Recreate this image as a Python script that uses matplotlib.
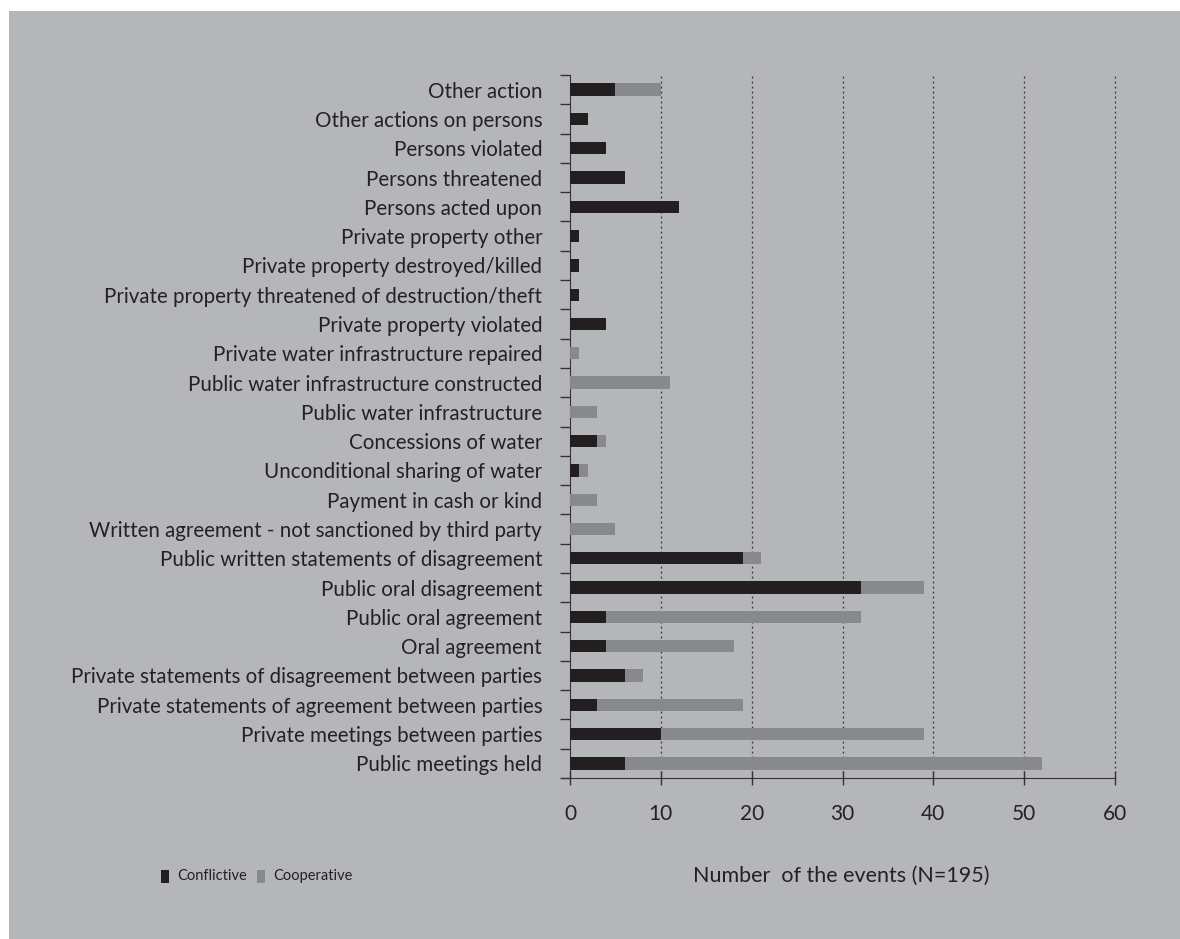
import matplotlib
matplotlib.use("Agg")
import matplotlib.pyplot as plt
from matplotlib.patches import Rectangle
import numpy as np

categories = [
    "Other action",
    "Other actions on persons",
    "Persons violated",
    "Persons threatened",
    "Persons acted upon",
    "Private property other",
    "Private property destroyed/killed",
    "Private property threatened of destruction/theft",
    "Private property violated",
    "Private water infrastructure repaired",
    "Public water infrastructure constructed",
    "Public water infrastructure",
    "Concessions of water",
    "Unconditional sharing of water",
    "Payment in cash or kind",
    "Written agreement - not sanctioned by third party",
    "Public written statements of disagreement",
    "Public oral disagreement",
    "Public oral agreement",
    "Oral agreement",
    "Private statements of disagreement between parties",
    "Private statements of agreement between parties",
    "Private meetings between parties",
    "Public meetings held",
]
conflictive = [5, 2, 4, 6, 12, 1, 1, 1, 4, 0, 0, 0, 3, 1, 0, 0, 19, 32, 4, 4, 6, 3, 10, 6]
cooperative = [5, 0, 0, 0, 0, 0, 0, 0, 0, 1, 11, 3, 1, 1, 3, 5, 2, 7, 28, 14, 2, 16, 29, 46]
xticks = [0, 10, 20, 30, 40, 50, 60]

plt.rcParams['font.family'] = ['Lato', 'DejaVu Sans']

BG = '#b5b6ba'
DARK = '#231f20'
GREY = '#88898c'
TXT = '#222222'

W, H = 1180, 939
fig = plt.figure(figsize=(W / 100, H / 100), dpi=100)
fig.patch.set_facecolor('white')
fig.add_artist(Rectangle((9 / W, 0), 1 - 9 / W, 1 - 11 / H,
                         transform=fig.transFigure, facecolor=BG,
                         edgecolor='none', zorder=-10))

ax = fig.add_axes([570 / W, 1 - 778 / H, (1115 - 570) / W, (778 - 75) / H])
ax.set_facecolor('none')

n = len(categories)
y = np.arange(n)[::-1]
ax.barh(y, conflictive, height=0.42, color=DARK, zorder=3)
ax.barh(y, cooperative, left=conflictive, height=0.42, color=GREY, zorder=3)

ax.set_xlim(0, 60)
ax.set_ylim(-0.5, n - 0.5)
ax.set_xticks(xticks)
ax.set_xticklabels([str(t) for t in xticks], fontsize=15, color=TXT)
ax.tick_params(axis='x', direction='inout', length=10, width=1, color='#333333', pad=14)

ax.set_yticks(y)
ax.set_yticklabels(categories, fontsize=14.8, color=TXT)
ax.tick_params(axis='y', which='major', length=0, pad=20)
ax.set_yticks(np.arange(-0.5, n, 1.0), minor=True)
ax.tick_params(axis='y', which='minor', direction='out', length=7, width=1, color='#333333')

for t in xticks[1:]:
    ax.axvline(t, color='#333333', linestyle=(0, (1.5, 2.5)), linewidth=0.9,
               zorder=1, clip_on=False)

for s in ['top', 'right']:
    ax.spines[s].set_visible(False)
ax.spines['left'].set_color('#333333')
ax.spines['bottom'].set_color('#333333')
ax.spines['bottom'].set_bounds(-0.8, 60)

# Legend and axis label
ly = 1 - 876 / H
fig.add_artist(Rectangle((161 / W, 1 - 883 / H), 8 / W, 13 / H, transform=fig.transFigure,
                         facecolor=DARK, edgecolor='none'))
fig.text(177 / W, ly, 'Conflictive', fontsize=10.5, color=TXT, va='center', ha='left')
fig.add_artist(Rectangle((257 / W, 1 - 883 / H), 8 / W, 13 / H, transform=fig.transFigure,
                         facecolor=GREY, edgecolor='none'))
fig.text(273 / W, ly, 'Cooperative', fontsize=10.5, color=TXT, va='center', ha='left')
fig.text(693 / W, ly, 'Number  of the events (N=195)', fontsize=15.5, color=TXT,
         va='center', ha='left')

fig.savefig('out.png', dpi=100, facecolor=fig.get_facecolor())
